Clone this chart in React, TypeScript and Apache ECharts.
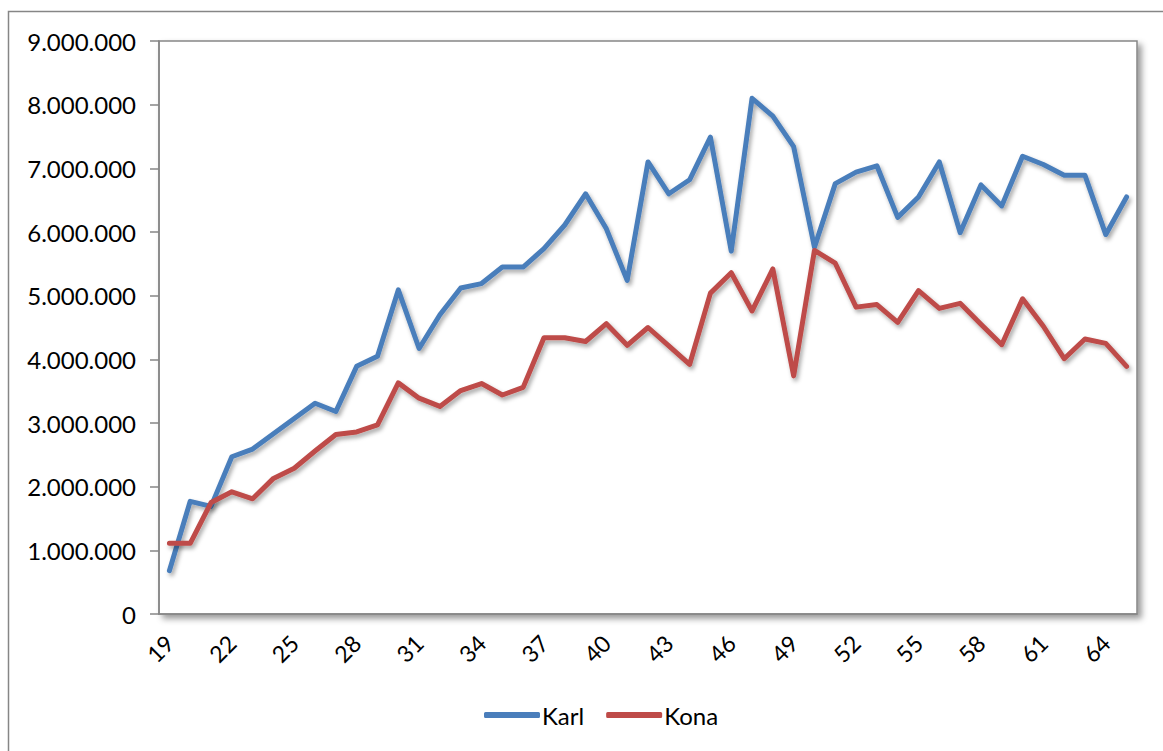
import React, { useEffect, useRef } from "react";
import * as echarts from "echarts";

const ages = [
  "19", "20", "21", "22", "23", "24", "25", "26", "27", "28", "29", "30", "31", "32", "33", "34",
  "35", "36", "37", "38", "39", "40", "41", "42", "43", "44", "45", "46", "47", "48", "49", "50",
  "51", "52", "53", "54", "55", "56", "57", "58", "59", "60", "61", "62", "63", "64", "65",
];

const karl = [
  680000, 1770000, 1690000, 2470000, 2590000, 2830000, 3070000, 3310000, 3180000, 3890000,
  4050000, 5090000, 4170000, 4700000, 5120000, 5190000, 5450000, 5450000, 5740000, 6110000,
  6600000, 6050000, 5240000, 7100000, 6600000, 6820000, 7490000, 5700000, 8100000, 7820000,
  7340000, 5760000, 6760000, 6940000, 7040000, 6230000, 6550000, 7100000, 5990000, 6740000,
  6410000, 7190000, 7060000, 6890000, 6890000, 5960000, 6550000,
];

const kona = [
  1110000, 1110000, 1750000, 1920000, 1810000, 2130000, 2290000, 2560000, 2820000, 2860000,
  2970000, 3630000, 3390000, 3260000, 3510000, 3620000, 3440000, 3560000, 4340000, 4340000,
  4280000, 4560000, 4220000, 4500000, 4210000, 3920000, 5040000, 5360000, 4760000, 5420000,
  3740000, 5710000, 5510000, 4820000, 4860000, 4580000, 5080000, 4800000, 4880000, 4550000,
  4230000, 4950000, 4520000, 4010000, 4320000, 4250000, 3890000,
];

const seriesNames = ["Karl", "Kona"];
const seriesColors = ["#4A7EBB", "#BE4B48"];

const FONT = "Lato";

function fmt(v: number): string {
  return String(Math.round(v)).replace(/\B(?=(\d{3})+(?!\d))/g, ".");
}

export default function App() {
  const ref = useRef<HTMLDivElement>(null);
  useEffect(() => {
    if (!ref.current) return;
    const chart = echarts.init(ref.current, undefined, { renderer: "svg" });
    const lineShadow = {
      shadowColor: "rgba(0,0,0,0.35)",
      shadowBlur: 4,
      shadowOffsetX: 2,
      shadowOffsetY: 3,
    };
    chart.setOption({
      animation: false,
      backgroundColor: "#ffffff",
      textStyle: { fontFamily: FONT },
      graphic: [
        {
          type: "rect",
          z: -10,
          shape: { x: 8.5, y: 11.5, width: 1300, height: 900 },
          style: { fill: "none", stroke: "#868686", lineWidth: 1.5 },
        },
      ],
      grid: {
        left: 159,
        right: 26,
        top: 41,
        bottom: 137,
        show: true,
        backgroundColor: "#ffffff",
        borderColor: "#868686",
        borderWidth: 1.5,
        shadowColor: "rgba(0,0,0,0.4)",
        shadowBlur: 6,
        shadowOffsetX: 4,
        shadowOffsetY: 4,
      },
      legend: {
        top: 698,
        left: 479,
        itemWidth: 56,
        itemHeight: 6,
        itemGap: 22,
        icon: "roundRect",
        textStyle: { fontFamily: FONT, fontSize: 24, color: "#000", padding: [0, 0, 0, -3] },
        data: seriesNames,
      },
      xAxis: {
        type: "category",
        data: ages,
        boundaryGap: true,
        axisLine: { lineStyle: { color: "#868686", width: 1.5 } },
        axisTick: { interval: 0, length: 6, lineStyle: { color: "#868686", width: 1.5 } },
        axisLabel: {
          interval: 2,
          rotate: 45,
          margin: 25,
          fontFamily: FONT,
          fontSize: 23,
          color: "#000",
        },
        splitLine: { show: false },
      },
      yAxis: {
        type: "value",
        min: 0,
        max: 9000000,
        interval: 1000000,
        axisLine: { show: true, lineStyle: { color: "#868686", width: 1.5 } },
        axisTick: { show: true, length: 9, lineStyle: { color: "#868686", width: 1.5 } },
        axisLabel: {
          margin: 23,
          fontFamily: FONT,
          fontSize: 24,
          color: "#000",
          formatter: (v: number) => fmt(v),
        },
        splitLine: {
          lineStyle: {
            color: "#868686",
            width: 1.5,
            shadowColor: "rgba(0,0,0,0.15)",
            shadowBlur: 4,
            shadowOffsetY: 4,
          },
        },
      },
      series: [
        {
          name: seriesNames[0],
          type: "line",
          data: karl,
          showSymbol: false,
          symbol: "none",
          color: seriesColors[0],
          lineStyle: { color: seriesColors[0], width: 5, cap: "round", join: "round", ...lineShadow },
        },
        {
          name: seriesNames[1],
          type: "line",
          data: kona,
          showSymbol: false,
          symbol: "none",
          color: seriesColors[1],
          lineStyle: { color: seriesColors[1], width: 5, cap: "round", join: "round", ...lineShadow },
        },
      ],
    });
    return () => chart.dispose();
  }, []);
  return (
    <div
      ref={ref}
      style={{ position: "fixed", left: 0, top: 0, width: 1163, height: 751 }}
    />
  );
}
